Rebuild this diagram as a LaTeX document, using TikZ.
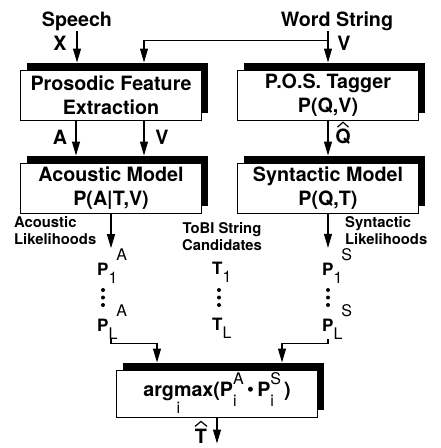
\documentclass[tikz,border=0pt]{standalone}
\usepackage{fontspec}
\setmainfont{TeX Gyre Heros}
\usetikzlibrary{arrows.meta, positioning, shadows}
\newcommand{\subfont}{\mdseries\fontsize{16}{16}\selectfont}
\newcommand{\likeli}[2]{P\raisebox{-8pt}{\subfont#1}\hspace{-1pt}\raisebox{15pt}{\subfont#2}}
\newcommand{\tobi}[1]{T\raisebox{-8pt}{\subfont#1}}
\newcommand{\ptsub}[2]{\rlap{\raisebox{-10pt}{\subfont#1}}\raisebox{12pt}{\subfont#2}}
\tikzset{
  block/.style={rectangle,draw,line width=1pt,fill=white,align=center,inner sep=0pt,
    minimum width=181pt,minimum height=50pt,font=\fontsize{19.7}{23.5}\selectfont\bfseries,
    drop shadow={shadow xshift=6pt,shadow yshift=7pt,fill=black,opacity=1}},
  lbl/.style={inner sep=1pt,font=\fontsize{19.7}{23.5}\selectfont\bfseries},
  note/.style={inner sep=0pt,align=left,font=\fontsize{14.8}{17.5}\selectfont\bfseries},
  cand/.style={inner sep=0pt,font=\fontsize{17}{20}\selectfont\bfseries},
  line/.style={-{Triangle[length=14pt,width=8pt]},line width=1.1pt},
  into/.style={shorten >=7pt},
  hat/.style={line width=1.2pt}
}

\begin{document}
\begin{tikzpicture}[x=1pt,y=-1pt,node distance=42pt and 35pt]
\useasboundingbox (0,0) rectangle (441,448);
% inputs
\node[lbl, anchor=base] (speech) at (77,26) {Speech};
\node[lbl, anchor=base] (word) at (337,26) {Word String};
% boxes
\node[block] (pros) at (111,95) {Prosodic Feature\\Extraction};
\node[block, right=of pros] (pos) {P.O.S. Tagger\\P(Q,V)};
\node[block, below=of pros] (acou) {Acoustic Model\\P(A|T,V)};
\node[block, below=of pos] (synt) {Syntactic Model\\P(Q,T)};
\node[block, minimum width=201pt, minimum height=47pt] (argmax) at (217,393.5)
  {$\mathop{\hbox{argmax}}\limits_{\hbox{\subfont i}}$(P\ptsub{i}{A}\,{\mdseries\textbullet}\,P\ptsub{i}{S}\hspace{3pt})};
% arrow labels
\node[lbl] (x) at (60,43) {X};
\node[lbl] (v1) at (344,43) {V};
\node[lbl] (a) at (60,137) {A};
\node[lbl] (v2) at (162,137) {V};
\node[lbl, anchor=base] (q) at (343,143) {Q};
\node[lbl, anchor=base, inner sep=0pt] (that) at (201,443) {T};
\draw[hat] ([xshift=-5.5pt]q.north) -- ([yshift=5pt]q.north) -- ([xshift=5.5pt]q.north);
\draw[hat] ([xshift=-6pt,yshift=2pt]that.north) -- ([yshift=7pt]that.north) -- ([xshift=6pt,yshift=2pt]that.north);
% likelihood columns
\node[note, anchor=west] (acnote) at (14,230.5) {Acoustic\\Likelihoods};
\node[note, align=center] (tobinote) at (222,236.5) {ToBI String\\Candidates};
\node[note, anchor=west] (synnote) at (345,230.5) {Syntactic\\Likelihoods};
\node[cand, anchor=base west] (pa1) at (97,275) {\likeli{1}{A}};
\node[cand, anchor=base west] (paL) at (97,331) {\likeli{L}{A}};
\node[cand, anchor=base west] (t1) at (212,274) {\tobi{1}};
\node[cand, anchor=base west] (tL) at (212,330) {\tobi{L}};
\node[cand, anchor=base west] (ps1) at (322,275) {\likeli{1}{S}};
\node[cand, anchor=base west] (psL) at (322,331) {\likeli{L}{S}};
\foreach \x in {103,219,328}
  \foreach \y in {290,297.5,305}
    \fill (\x,\y) circle[radius=2pt];
\coordinate[below=26pt of argmax.south] (tout);
% connectors
\draw[line, into] (speech) -- (speech |- pros.north);
\draw[line, into] (word.south -| pos.north) -- (pos.north);
\draw[line, into] (word.south -| pos.north) ++(0,9) -| ([xshift=33pt]pros.north);
\draw[line, into] ([xshift=-35pt]pros.south) -- ([xshift=-35pt]acou.north);
\draw[line, into] ([xshift=33pt]pros.south) -- ([xshift=33pt]acou.north);
\draw[line, into] (pos) -- (synt);
\draw[line] (acou) -- (acou.south |- pa1.north);
\draw[line] (synt) -- (synt.south |- ps1.north);
\draw[line, into] (paL.south -| acou.south) -- ++(0,4) -| ([xshift=-60pt]argmax.north);
\draw[line, into] (psL.south -| synt.south) -- ++(0,4) -| ([xshift=65pt]argmax.north);
\draw[line] (argmax) -- (tout);
\end{tikzpicture}
\end{document}
